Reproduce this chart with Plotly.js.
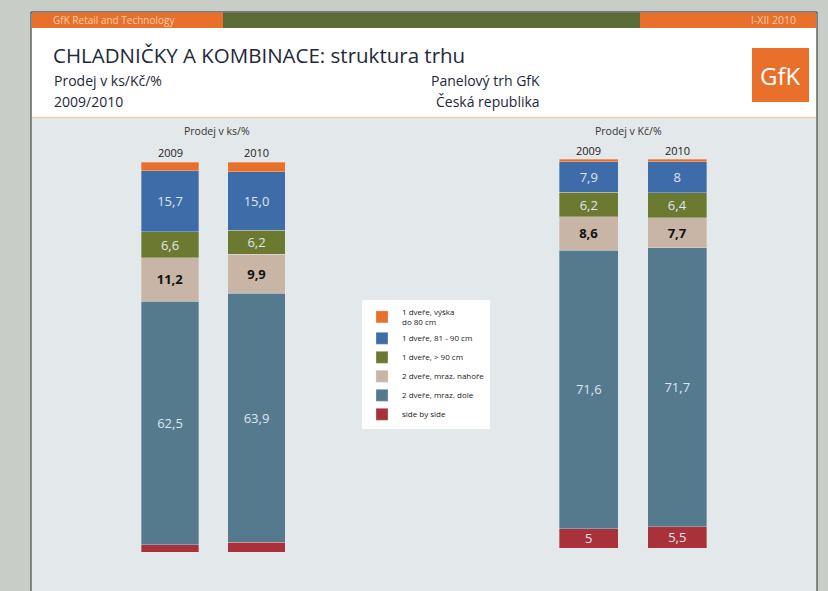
<!DOCTYPE html>
<html>
<head>
<meta charset="utf-8">
<script src="https://cdn.plot.ly/plotly-3.0.1.min.js"></script>
<style>html,body{margin:0;padding:0;background:#c9cdc8;}#chart{width:828px;height:591px;}</style>
</head>
<body>
<div id="chart"></div>
<script>
// ---- data ----
var years = ['2009', '2010'];
var seriesNames = ['side by side', '2 dveře, mraz. dole', '2 dveře, mraz. nahoře', '1 dveře, > 90 cm', '1 dveře, 81 - 90 cm', '1 dveře, výška<br>do 80 cm'];
var seriesColors = ['#a9323a', '#557a8e', '#c8b5a5', '#6b7a30', '#3e6ca8', '#e8702a'];
// Prodej v ks/% (bottom -> top)
var ksSideBySide = [1.8, 2.5];
var ksMrazDole = [62.5, 63.9];
var ksMrazNahore = [11.2, 9.9];
var ksNad90 = [6.6, 6.2];
var ks81to90 = [15.7, 15.0];
var ksDo80 = [2.2, 2.5];
// Prodej v Kč/% (bottom -> top)
var kcSideBySide = [5, 5.5];
var kcMrazDole = [71.6, 71.7];
var kcMrazNahore = [8.6, 7.7];
var kcNad90 = [6.2, 6.4];
var kc81to90 = [7.9, 8];
var kcDo80 = [0.7, 0.7];

var ksSeries = [ksSideBySide, ksMrazDole, ksMrazNahore, ksNad90, ks81to90, ksDo80];
var kcSeries = [kcSideBySide, kcMrazDole, kcMrazNahore, kcNad90, kc81to90, kcDo80];
var ksLabelled = [false, true, true, true, true, false];
var kcLabelled = [true, true, true, true, true, false];

var W = 828, H = 591;
function px(x) { return x / W; }
function py(y) { return 1 - y / H; }
var FONT = 'Open Sans, DejaVu Sans, sans-serif';
var yearIdx = years.map(function (_, i) { return i; });

function fmtKs(v) { return v.toFixed(1).replace('.', ','); }
function fmtKc(v) { return String(v).replace('.', ','); }

var traces = [];
function addSet(series, labelled, fmt, xa, ya, showLeg) {
  series.forEach(function (vals, i) {
    var isBeige = i === 2;
    var t = {
      type: 'bar',
      x: yearIdx,
      y: vals,
      width: 0.665,
      xaxis: xa,
      yaxis: ya,
      name: seriesNames[i],
      legendgroup: 'g' + i,
      showlegend: showLeg,
      marker: { color: seriesColors[i], line: { color: 'rgba(235,238,240,0.55)', width: 0.6 } },
      hoverinfo: 'skip'
    };
    if (labelled[i]) {
      t.text = vals.map(fmt);
      t.textposition = 'inside';
      t.insidetextanchor = 'middle';
      t.textangle = 0;
      t.constraintext = 'none';
      t.textfont = {
        family: FONT,
        size: 13,
        color: isBeige ? '#111111' : '#dfe6ee',
        weight: isBeige ? 'bold' : 'normal'
      };
    } else {
      t.textposition = 'none';
    }
    traces.push(t);
  });
}
addSet(ksSeries, ksLabelled, fmtKs, 'x', 'y', true);
addSet(kcSeries, kcLabelled, fmtKc, 'x2', 'y2', false);

var shapes = [
  { type: 'rect', xref: 'paper', yref: 'paper', x0: px(31), x1: px(817), y0: py(596), y1: py(12), fillcolor: '#e3e8ea', line: { color: '#2a2a2a', width: 1 }, layer: 'below' },
  { type: 'rect', xref: 'paper', yref: 'paper', x0: px(32), x1: px(223), y0: py(28), y1: py(12.5), fillcolor: '#e8702a', line: { width: 0 }, layer: 'below' },
  { type: 'rect', xref: 'paper', yref: 'paper', x0: px(223), x1: px(640), y0: py(28), y1: py(12.5), fillcolor: '#5b6b36', line: { width: 0 }, layer: 'below' },
  { type: 'rect', xref: 'paper', yref: 'paper', x0: px(640), x1: px(816), y0: py(28), y1: py(12.5), fillcolor: '#e8702a', line: { width: 0 }, layer: 'below' },
  { type: 'rect', xref: 'paper', yref: 'paper', x0: px(32), x1: px(816), y0: py(117), y1: py(28), fillcolor: '#ffffff', line: { width: 0 }, layer: 'below' },
  { type: 'line', xref: 'paper', yref: 'paper', x0: px(32), x1: px(816), y0: py(117.5), y1: py(117.5), line: { color: '#eccdb5', width: 1.5 }, layer: 'below' },
  { type: 'rect', xref: 'paper', yref: 'paper', x0: px(752), x1: px(809), y0: py(102), y1: py(48), fillcolor: '#e8702a', line: { width: 0 }, layer: 'below' }
];

var DARK = '#1e2838';
var annotations = [
  { text: 'GfK Retail and Technology', x: px(51), y: py(20), xanchor: 'left', yanchor: 'middle', font: { family: FONT, size: 10, color: '#f6cdb0' } },
  { text: 'I-XII 2010', x: px(798), y: py(20), xanchor: 'right', yanchor: 'middle', font: { family: FONT, size: 10.5, color: '#f6cdb0' } },
  { text: 'CHLADNIČKY A KOMBINACE: struktura trhu', x: px(51), y: py(55), xanchor: 'left', yanchor: 'middle', font: { family: FONT, size: 20.5, color: DARK } },
  { text: 'Prodej v ks/Kč/%', x: px(52), y: py(81), xanchor: 'left', yanchor: 'middle', font: { family: FONT, size: 14, color: DARK } },
  { text: '2009/2010', x: px(52), y: py(101), xanchor: 'left', yanchor: 'middle', font: { family: FONT, size: 14, color: DARK } },
  { text: 'Panelový trh GfK', x: px(429), y: py(81), xanchor: 'left', yanchor: 'middle', font: { family: FONT, size: 14, color: DARK } },
  { text: 'Česká republika', x: px(434), y: py(101), xanchor: 'left', yanchor: 'middle', font: { family: FONT, size: 14, color: DARK } },
  { text: 'GfK', x: px(780), y: py(75), xanchor: 'center', yanchor: 'middle', font: { family: FONT, size: 24, color: '#ffffff' } },
  { text: 'Prodej v ks/%', x: px(217), y: py(131), xanchor: 'center', yanchor: 'middle', font: { family: FONT, size: 10.5, color: '#333333' } },
  { text: 'Prodej v Kč/%', x: px(628), y: py(131), xanchor: 'center', yanchor: 'middle', font: { family: FONT, size: 10.5, color: '#333333' } }
];
annotations.forEach(function (a) { a.xref = 'paper'; a.yref = 'paper'; a.showarrow = false; });
years.forEach(function (yr, i) {
  annotations.push({ text: yr, xref: 'x', yref: 'paper', x: yearIdx[i], y: py(152), showarrow: false, xanchor: 'center', yanchor: 'middle', font: { family: FONT, size: 11, color: '#222222' } });
  annotations.push({ text: yr, xref: 'x2', yref: 'paper', x: yearIdx[i], y: py(150), showarrow: false, xanchor: 'center', yanchor: 'middle', font: { family: FONT, size: 11, color: '#222222' } });
});

var axisCommon = { type: 'linear', range: [-0.5, 1.5], autorange: false, showgrid: false, zeroline: false, showline: false, showticklabels: false, ticks: '', fixedrange: true };
var yCommon = { type: 'linear', range: [0, 100], autorange: false, showgrid: false, zeroline: false, showline: false, showticklabels: false, ticks: '', fixedrange: true };

var layout = {
  width: W, height: H,
  margin: { l: 0, r: 0, t: 0, b: 0, pad: 0 },
  paper_bgcolor: '#c9cdc8',
  plot_bgcolor: 'rgba(0,0,0,0)',
  barmode: 'stack',
  font: { family: FONT },
  xaxis: Object.assign({ domain: [px(126.75), px(299.75)], anchor: 'y' }, axisCommon),
  yaxis: Object.assign({ domain: [py(552), py(162)], anchor: 'x' }, yCommon),
  xaxis2: Object.assign({ domain: [px(544.5), px(721.5)], anchor: 'y2' }, axisCommon),
  yaxis2: Object.assign({ domain: [py(548), py(159)], anchor: 'x2' }, yCommon),
  showlegend: true,
  legend: {
    x: px(362), y: py(300), xanchor: 'left', yanchor: 'top',
    bgcolor: '#ffffff', borderwidth: 0,
    traceorder: 'reversed',
    font: { family: FONT, size: 8, color: '#222222' },
    itemwidth: 30, tracegroupgap: 0
  },
  shapes: shapes,
  annotations: annotations
};

Plotly.newPlot('chart', traces, layout, { displayModeBar: false, staticPlot: true });
</script>
</body>
</html>
